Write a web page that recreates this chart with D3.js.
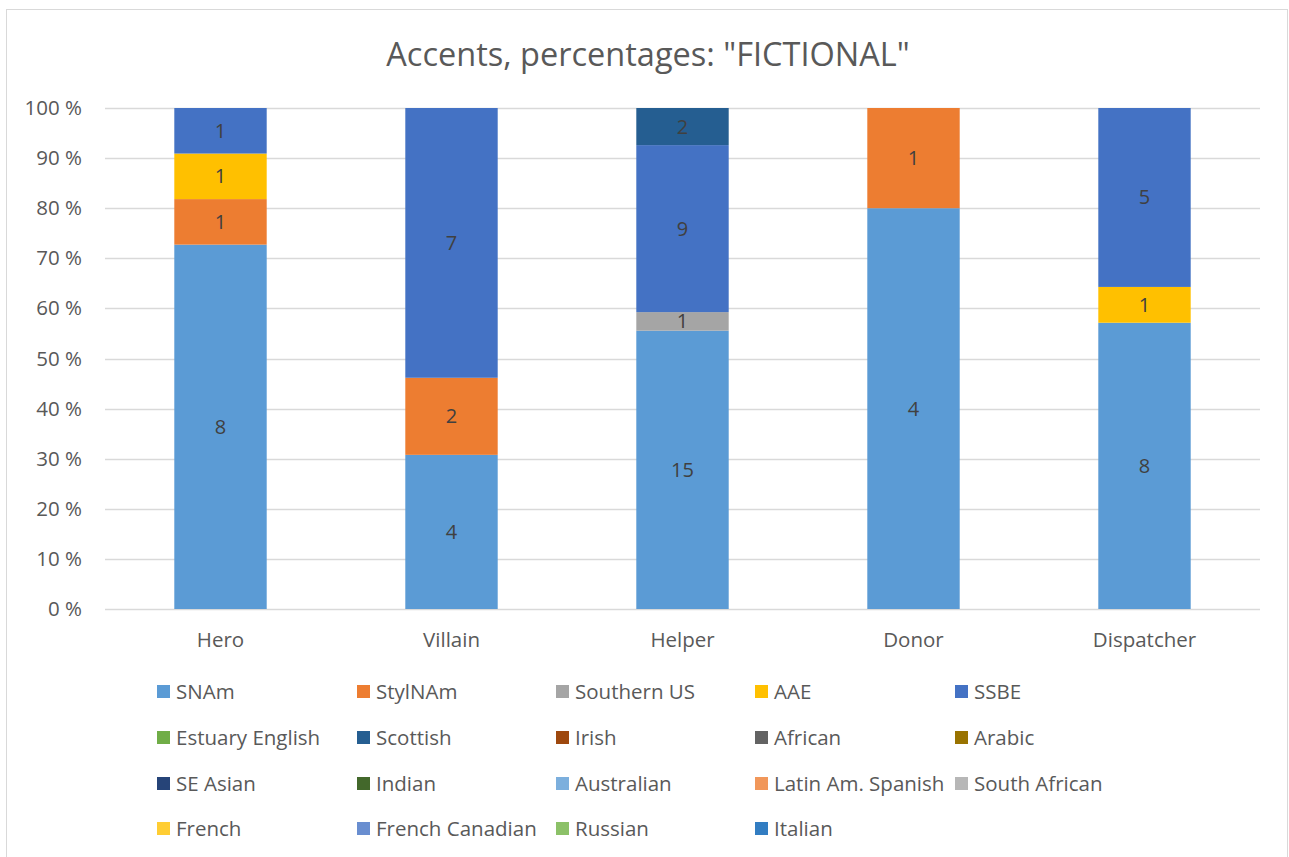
<!DOCTYPE html>
<html><head><meta charset="utf-8">
<script src="https://cdn.jsdelivr.net/npm/d3@7"></script>
<style>body{margin:0;background:#fff;font-family:"Open Sans",sans-serif;}</style>
</head><body>
<svg id="c" width="1289" height="857"></svg>
<script>
const categories = ["Hero","Villain","Helper","Donor","Dispatcher"];
const seriesNames = ["SNAm","StylNAm","Southern US","AAE","SSBE","Estuary English","Scottish","Irish","African","Arabic","SE Asian","Indian","Australian","Latin Am. Spanish","South African","French","French Canadian","Russian","Italian"];
const seriesColors = ["#5B9BD5","#ED7D31","#A5A5A5","#FFC000","#4472C4","#70AD47","#255E91","#9E480E","#636363","#997300","#264478","#43682B","#7CAFDD","#F1975A","#B7B7B7","#FFCD33","#698ED0","#8CC168","#327DC2"];
// counts per category (Hero, Villain, Helper, Donor, Dispatcher)
const SNAm = [8,4,15,4,8];
const StylNAm = [1,2,0,1,0];
const SouthernUS = [0,0,1,0,0];
const AAE = [1,0,0,0,1];
const SSBE = [1,7,9,0,5];
const Scottish = [0,0,2,0,0];
const zero = [0,0,0,0,0];
const seriesValues = [SNAm,StylNAm,SouthernUS,AAE,SSBE,zero,Scottish,zero,zero,zero,zero,zero,zero,zero,zero,zero,zero,zero,zero];
const yTicks = [0,10,20,30,40,50,60,70,80,90,100];

const svg = d3.select("#c");
svg.append("rect").attr("x",6.5).attr("y",9.5).attr("width",1281).attr("height",870)
  .attr("fill","#fff").attr("stroke","#d9d9d9").attr("stroke-width",1);

const x = d3.scaleBand().domain(categories).range([105,1260]).paddingInner(0.6).paddingOuter(0.3);
const y = d3.scaleLinear().domain([0,100]).range([609,108]);

svg.append("text").attr("x",648).attr("y",66).attr("text-anchor","middle")
  .attr("font-size",32.5).attr("fill","#595959").text('Accents, percentages: "FICTIONAL"');

// gridlines
svg.append("g").selectAll("line").data(yTicks).join("line")
  .attr("x1",105).attr("x2",1260).attr("y1",d=>Math.round(y(d))+0.5).attr("y2",d=>Math.round(y(d))+0.5)
  .attr("stroke","#d9d9d9").attr("stroke-width",1.5);

const yAxis = d3.axisLeft(y).tickValues(yTicks).tickFormat(d=>d+" %").tickSize(0).tickPadding(0);
const ya = svg.append("g").attr("transform","translate(82,0)").call(yAxis);
ya.select(".domain").remove();
ya.selectAll("text").attr("font-size",20.5).attr("fill","#595959").attr("font-family","Open Sans");

const xAxis = d3.axisBottom(x).tickSize(0).tickPadding(0);
const xa = svg.append("g").attr("transform","translate(0,640)").call(xAxis);
xa.select(".domain").remove();
xa.selectAll("text").attr("font-size",20.5).attr("fill","#595959").attr("font-family","Open Sans").attr("dy","0.35em");

// stack
const table = categories.map((c,i)=>{
  const o={cat:c}; let tot=0;
  seriesNames.forEach((s,j)=>{o[s]=seriesValues[j][i]; tot+=seriesValues[j][i];});
  o.total=tot; return o;});
const stack = d3.stack().keys(seriesNames).offset(d3.stackOffsetExpand);
const stacked = stack(table);
const g = svg.append("g");
stacked.forEach((layer,j)=>{
  layer.forEach((d,i)=>{
    const v = seriesValues[j][i];
    if(!v) return;
    const y0=y(d[0]*100), y1=y(d[1]*100);
    g.append("rect").attr("x",x(categories[i])).attr("width",x.bandwidth())
      .attr("y",y1).attr("height",y0-y1).attr("fill",seriesColors[j]);
    g.append("text").attr("x",x(categories[i])+x.bandwidth()/2).attr("y",(y0+y1)/2)
      .attr("dy","0.35em").attr("text-anchor","middle").attr("font-size",20).attr("fill","#404040").text(v);
  });
});

// legend
const colX = [157,357,556,755,955];
const rowY = [692,738,784,829];
const lg = svg.append("g");
seriesNames.forEach((s,k)=>{
  const c=k%5, r=Math.floor(k/5);
  lg.append("rect").attr("x",colX[c]).attr("y",rowY[r]-7).attr("width",13).attr("height",13).attr("fill",seriesColors[k]);
  lg.append("text").attr("x",colX[c]+19).attr("y",rowY[r]).attr("dy","0.35em").attr("font-size",20.5).attr("fill","#595959").text(s);
});
</script>
</body></html>
